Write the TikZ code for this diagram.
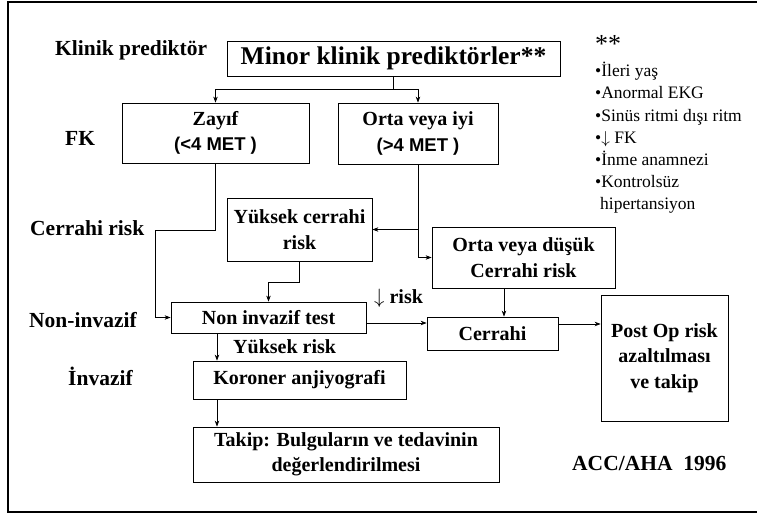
\documentclass[tikz,border=0pt]{standalone}
\usepackage{fontspec}
\setmainfont{Liberation Serif}
\newfontfamily\arialfont{Liberation Sans}
\usetikzlibrary{arrows.meta}
\newcommand{\bxfont}{\bfseries\fontsize{20}{25.5}\selectfont}
\newcommand{\lblfont}{\bfseries\fontsize{21.5}{24}\selectfont}
\newcommand{\lstfont}{\fontsize{17.5}{22.2}\selectfont}
\newcommand{\metfont}{\arialfont\fontsize{18.5}{25.5}\selectfont}
\begin{document}
\begin{tikzpicture}[x=1pt,y=-1pt,
  box/.style={draw, line width=0.8pt, inner sep=0pt, align=center, font=\bxfont},
  lbl/.style={inner sep=0pt, font=\lblfont, anchor=west},
  conn/.style={line width=0.7pt},
  arr/.style={line width=0.7pt, -{Stealth[length=6pt,width=4.5pt]}}]
\useasboundingbox (0,0) rectangle (757,515);
\clip (0,0) rectangle (757,515);
% outer frame
\draw[line width=1.5pt] (770,2) -- (8,2) -- (8,512) -- (770,512);

% boxes
\node[box, minimum width=333, minimum height=35, font=\bfseries\fontsize{25.5}{28}\selectfont] (minor) at (393.5,58.5) {Minor klinik prediktörler**};
\node[box, minimum width=187, minimum height=60] (zayif) at (215.5,133) {Zayıf\\{\metfont (<4 MET )}};
\node[box, minimum width=160, minimum height=61] (orta) at (418,133.5) {Orta veya iyi\\{\metfont (>4 MET )}};
\node[box, minimum width=145, minimum height=63] (yuksekc) at (299.5,229.5) {Yüksek cerrahi\\risk};
\node[box, minimum width=183, minimum height=61] (ortad) at (523.5,257.5) {Orta veya düşük\\Cerrahi risk};
\node[box, minimum width=195, minimum height=31] (nit) at (268.5,317.5) {Non invazif test};
\node[box, minimum width=131, minimum height=33] (cerrahi) at (492.5,333.5) {Cerrahi};
\node[box, minimum width=127, minimum height=126] (postop) at (664.5,358) {Post Op risk\\azaltılması\\ve takip};
\node[box, minimum width=213, minimum height=38] (koroner) at (299.5,380) {Koroner anjiyografi};
\node[box, minimum width=306, minimum height=55] (takip) at (346,454.5) {Takip: Bulguların ve tedavinin\\değerlendirilmesi};

% side labels
\node[lbl] (l1) at (55,50) {Klinik prediktör};
\node[lbl] (l2) at (65,138) {FK};
\node[lbl] (l3) at (30,228) {Cerrahi risk};
\node[lbl] (l4) at (29,320) {Non-invazif};
\node[lbl] (l5) at (68,376) {İnvazif};
\node[lbl, font=\bfseries\fontsize{20}{24}\selectfont] (l6) at (374,298) {$\downarrow$ risk};
\node[lbl, font=\bfseries\fontsize{20}{24}\selectfont] (l7) at (233,347) {Yüksek risk};
\node[lbl] (l8) at (572,463) {ACC/AHA\ \ 1996};

% list
\node[inner sep=0pt, anchor=west, font=\fontsize{26}{26}\selectfont] (stars) at (595,44) {**};
\node[inner sep=0pt, anchor=north west, align=left, font=\lstfont] (list) at (595,62)
 {•İleri yaş\\•Anormal EKG\\•Sinüs ritmi dışı ritm\\•$\downarrow$ FK\\•İnme anamnezi\\•Kontrolsüz\\\hspace*{5pt}hipertansiyon};

% connectors
\coordinate (split) at (393.5,89);
\draw[conn] (minor.south) -- (split);
\draw[arr] (split) -| (zayif.north);
\draw[arr] (split) -| (orta.north);
\coordinate (z1) at (155,230);
\draw[arr] (zayif.south) |- (z1) |- (nit.west);
\draw[arr] (orta.south) |- (yuksekc.east);
\draw[arr] (orta.south) |- (ortad.west);
\draw[arr] (yuksekc.south) -- ++(0,21) -| (nit.north);
\draw[arr] ([yshift=-5.5pt]nit.east) coordinate (ne) -- (ne -| cerrahi.west);
\draw[arr] ([xshift=-19.5pt]ortad.south) coordinate (os) -- (os |- cerrahi.north);
\draw[arr] ([yshift=9.5pt]cerrahi.east) coordinate (ce) -- (ce -| postop.west);
\draw[arr] ([xshift=-51.5pt]nit.south) coordinate (ns) -- (ns |- koroner.north);
\draw[arr] ([xshift=-82.5pt]koroner.south) coordinate (ks) -- (ks |- takip.north);
\end{tikzpicture}
\end{document}
